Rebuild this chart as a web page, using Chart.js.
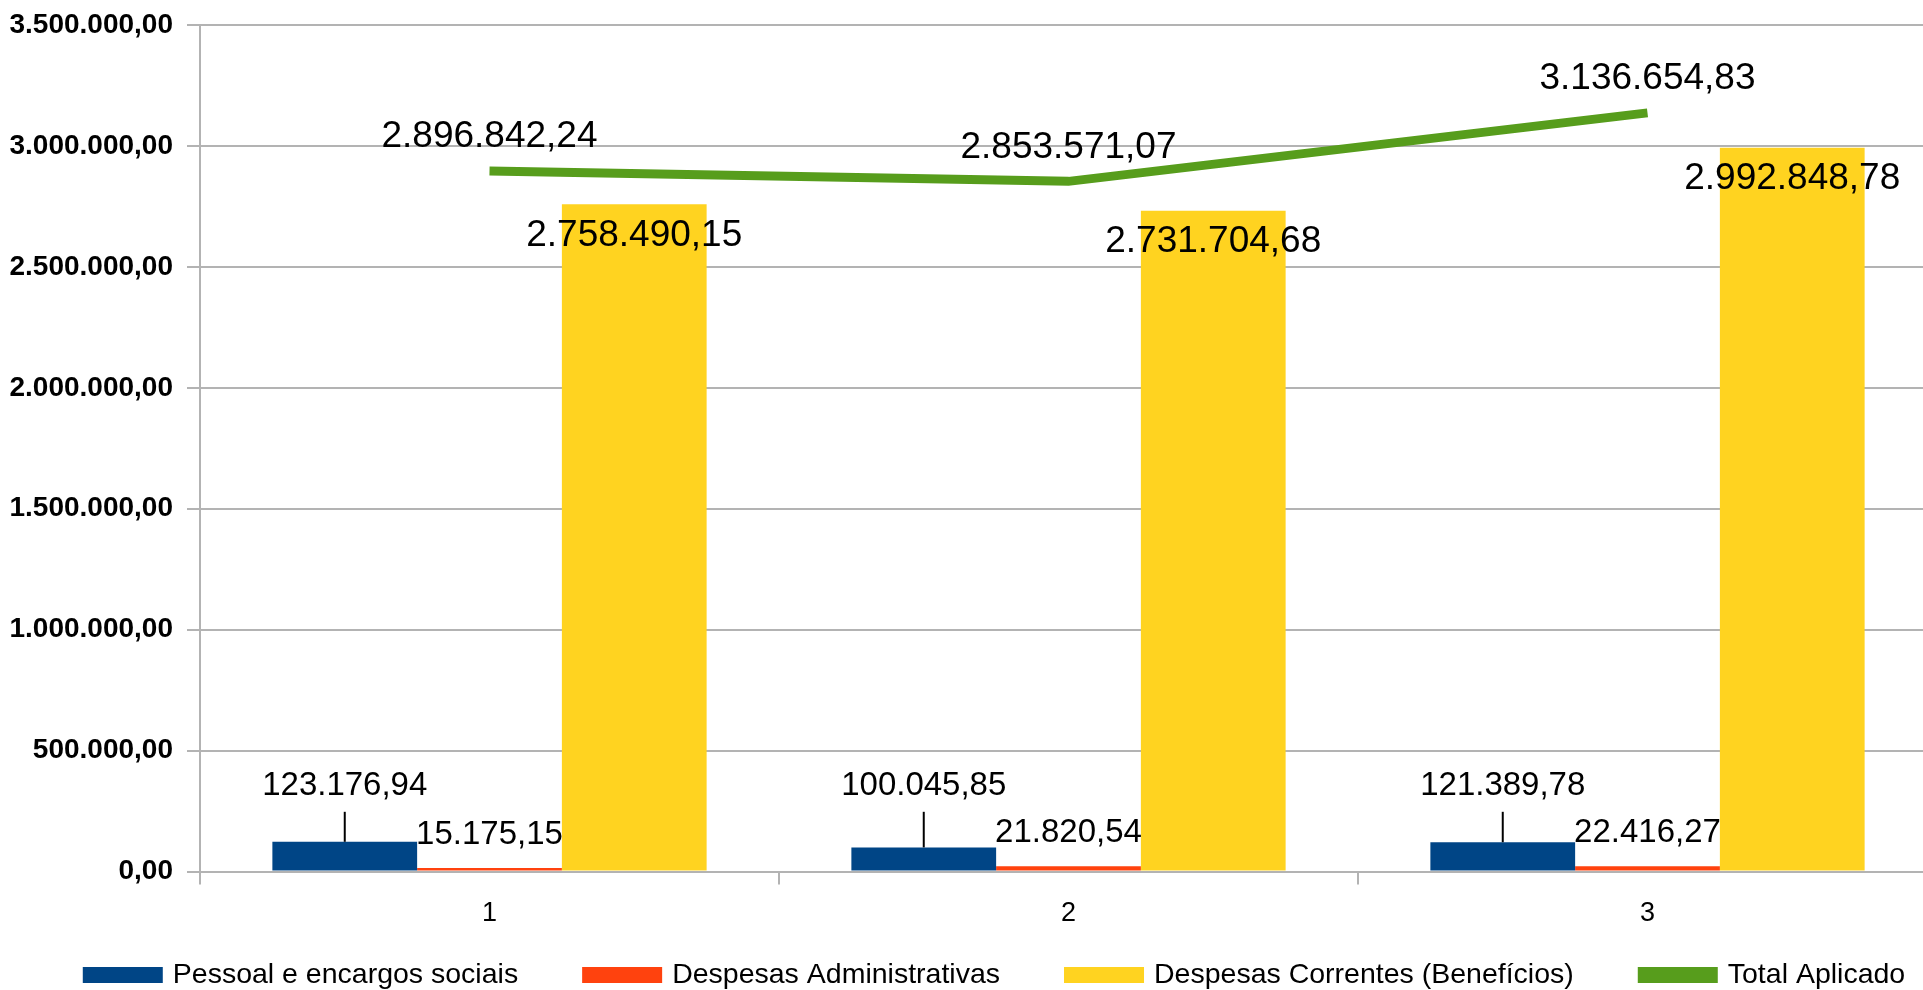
<!DOCTYPE html>
<html>
<head>
<meta charset="utf-8">
<script src="https://cdn.jsdelivr.net/npm/chart.js@4.4.1/dist/chart.umd.min.js"></script>
<style>
  html, body { margin: 0; padding: 0; background: #fff; overflow: hidden; }
  #wrap { width: 1940px; height: 990px; }
</style>
</head>
<body>
<div id="wrap"><canvas id="c" width="1940" height="990"></canvas></div>
<script>
const categories = ['1', '2', '3'];
const seriesNames = ['Pessoal e encargos sociais', 'Despesas Administrativas', 'Despesas Correntes (Benefícios)', 'Total Aplicado'];
const pessoal = [123176.94, 100045.85, 121389.78];
const administrativas = [15175.15, 21820.54, 22416.27];
const correntes = [2758490.15, 2731704.68, 2992848.78];
const totalAplicado = [2896842.24, 2853571.07, 3136654.83];
const yTicks = [0, 500000, 1000000, 1500000, 2000000, 2500000, 3000000, 3500000];

function fmtBR(v) {
  const neg = v < 0;
  const s = Math.abs(v).toFixed(2);
  let [ip, dp] = s.split('.');
  ip = ip.replace(/\B(?=(\d{3})+(?!\d))/g, '.');
  return (neg ? '-' : '') + ip + ',' + dp;
}

const FONT = '"Liberation Sans", Arial, sans-serif';

const dataLabels = {
  id: 'dataLabels',
  afterDatasetsDraw(chart) {
    const ctx = chart.ctx;
    ctx.save();
    ctx.fillStyle = '#000';
    ctx.textAlign = 'center';
    ctx.textBaseline = 'middle';
    chart.data.datasets.forEach((ds, di) => {
      const meta = chart.getDatasetMeta(di);
      const cfg = ds.labelCfg;
      if (!cfg) return;
      ctx.font = cfg.size + 'px ' + FONT;
      let alignY = null;
      if (cfg.aligned) {
        alignY = Math.min(...meta.data.map(e => e.y));
      }
      meta.data.forEach((el, i) => {
        const base = alignY !== null ? alignY : el.y;
        const ly = base + cfg.dy;
        if (cfg.leader) {
          ctx.strokeStyle = '#000';
          ctx.lineWidth = 2;
          ctx.beginPath();
          ctx.moveTo(el.x, ly + cfg.leader);
          ctx.lineTo(el.x, el.y);
          ctx.stroke();
        }
        ctx.fillText(fmtBR(ds.data[i]), el.x, ly);
      });
    });
    ctx.restore();
  }
};

const customLegend = {
  id: 'customLegend',
  afterDraw(chart, args, opts) {
    const ctx = chart.ctx;
    ctx.save();
    ctx.font = opts.size + 'px ' + FONT;
    ctx.textBaseline = 'middle';
    ctx.textAlign = 'left';
    const items = chart.data.datasets.map(ds => ({
      text: ds.label,
      color: ds.legendColor,
      w: opts.boxW + opts.boxGap + ctx.measureText(ds.label).width
    }));
    const total = items.reduce((a, b) => a + b.w, 0) + opts.itemGap * (items.length - 1);
    let x = opts.centerX - total / 2;
    const y = opts.y;
    items.forEach(it => {
      ctx.fillStyle = it.color;
      ctx.fillRect(x, y - opts.boxH / 2, opts.boxW, opts.boxH);
      ctx.fillStyle = '#000';
      ctx.fillText(it.text, x + opts.boxW + opts.boxGap, y);
      x += it.w + opts.itemGap;
    });
    ctx.restore();
  }
};

new Chart(document.getElementById('c'), {
  type: 'bar',
  data: {
    labels: categories,
    datasets: [
      { type: 'bar', label: seriesNames[0], data: pessoal, backgroundColor: '#004586', legendColor: '#004586', order: 2,
        labelCfg: { size: 33, dy: -56, aligned: true, leader: 26 } },
      { type: 'bar', label: seriesNames[1], data: administrativas, backgroundColor: '#ff420e', legendColor: '#ff420e', order: 2,
        labelCfg: { size: 33, dy: -33 } },
      { type: 'bar', label: seriesNames[2], data: correntes, backgroundColor: '#ffd320', legendColor: '#ffd320', order: 2,
        labelCfg: { size: 37, dy: 31 } },
      { type: 'line', label: seriesNames[3], data: totalAplicado, borderColor: '#579d1c', backgroundColor: '#579d1c', legendColor: '#579d1c',
        borderWidth: 9, pointRadius: 0, tension: 0, fill: false, order: 1,
        labelCfg: { size: 37, dy: -34 } }
    ]
  },
  options: {
    responsive: false,
    animation: false,
    devicePixelRatio: 1,
    layout: { padding: { left: 0, right: 3, top: 25, bottom: 47 } },
    datasets: { bar: { categoryPercentage: 0.75, barPercentage: 1.0 } },
    plugins: {
      legend: { display: false },
      tooltip: { enabled: false },
      customLegend: { size: 28.5, boxW: 80, boxH: 16, boxGap: 10, itemGap: 64, centerX: 994, y: 975 }
    },
    scales: {
      x: {
        grid: { offset: true, drawOnChartArea: false, color: '#b3b3b3', lineWidth: 2, tickLength: 13 },
        border: { color: '#b3b3b3', width: 2 },
        ticks: { color: '#000', font: { family: FONT, size: 27 }, padding: 13 }
      },
      y: {
        min: 0, max: 3500000,
        afterFit(scale) { scale.width = 200; scale.paddingTop = 0; scale.paddingBottom = 0; },
        afterBuildTicks(scale) { scale.ticks = yTicks.map(v => ({ value: v })); },
        grid: { color: '#b3b3b3', lineWidth: 2, tickLength: 13 },
        border: { color: '#b3b3b3', width: 2 },
        ticks: { color: '#000', font: { family: FONT, size: 28, weight: 'bold' }, padding: 14,
          callback: v => fmtBR(v) }
      }
    }
  },
  plugins: [dataLabels, customLegend]
});
</script>
</body>
</html>
